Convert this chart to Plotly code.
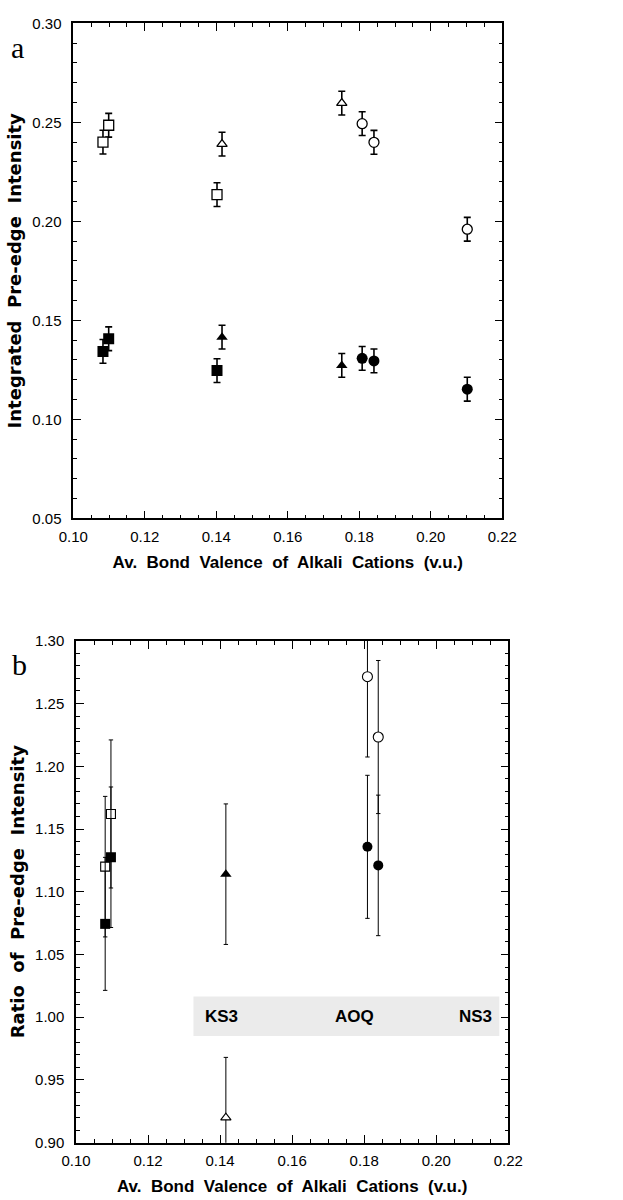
import plotly.graph_objects as go

# ---------------- Panel a data ----------------
a_sq_x = [0.1083, 0.1099, 0.1402]
a_sq_open_y = [0.2400, 0.2485, 0.2135]
a_sq_fill_y = [0.1343, 0.1407, 0.1246]
a_sq_err = [0.006, 0.006, 0.006]

a_tri_x = [0.1416, 0.1751]
a_tri_open_y = [0.2390, 0.2597]
a_tri_fill_y = [0.1415, 0.1272]
a_tri_err = [0.006, 0.006]

a_circ_x = [0.1808, 0.1841, 0.2102]
a_circ_open_y = [0.2493, 0.2399, 0.1960]
a_circ_fill_y = [0.1308, 0.1295, 0.1152]
a_circ_err = [0.006, 0.006, 0.006]

# ---------------- Panel b data ----------------
b_sq_x = [0.1081, 0.1097]
b_sq_open_y = [1.120, 1.162]
b_sq_open_err = [0.056, 0.059]
b_sq_fill_y = [1.0744, 1.1275]
b_sq_fill_err = [0.053, 0.056]

b_tri_x = [0.1416]
b_tri_open_y = [0.920]
b_tri_open_err = [0.048]
b_tri_fill_y = [1.114]
b_tri_fill_err = [0.056]

b_circ_x = [0.1809, 0.1839]
b_circ_open_y = [1.2714, 1.2233]
b_circ_open_err = [0.064, 0.061]
b_circ_fill_y = [1.1358, 1.1210]
b_circ_fill_err = [0.057, 0.056]

band_labels = ["KS3", "AOQ", "NS3"]
band_label_x = [0.1405, 0.1772, 0.2110]

FONT = "Liberation Sans, Arial, Helvetica, sans-serif"
YFONT = "DejaVu Sans, Verdana, sans-serif"
SERIF = "Liberation Serif, Times New Roman, serif"

fig = go.Figure()


def add(x, y, err, symbol, size, filled, xa, ya, thick, capw, lw):
    fig.add_trace(go.Scatter(
        x=x, y=y, mode="markers", xaxis=xa, yaxis=ya, showlegend=False,
        marker=dict(symbol=symbol, size=size,
                    color="black" if filled else "white",
                    line=dict(color="black", width=lw)),
        error_y=dict(type="data", array=err, visible=True, color="black",
                     thickness=thick, width=capw),
    ))


# panel a
add(a_sq_x, a_sq_fill_y, a_sq_err, "square", 11, True, "x", "y", 1.6, 3.5, 0)
add(a_tri_x, a_tri_fill_y, a_tri_err, "triangle-up", 10, True, "x", "y", 1.6, 3.5, 0)
add(a_circ_x, a_circ_fill_y, a_circ_err, "circle", 11, True, "x", "y", 1.6, 3.5, 0)
add(a_sq_x, a_sq_open_y, a_sq_err, "square", 10, False, "x", "y", 1.6, 3.5, 1.3)
add(a_tri_x, a_tri_open_y, a_tri_err, "triangle-up", 9, False, "x", "y", 1.6, 3.5, 1.3)
add(a_circ_x, a_circ_open_y, a_circ_err, "circle", 10, False, "x", "y", 1.6, 3.5, 1.3)

# panel b
add(b_sq_x, b_sq_open_y, b_sq_open_err, "square", 9, False, "x2", "y2", 1.0, 2.2, 1.1)
add(b_tri_x, b_tri_open_y, b_tri_open_err, "triangle-up", 9, False, "x2", "y2", 1.0, 2.2, 1.1)
add(b_circ_x, b_circ_open_y, b_circ_open_err, "circle", 10, False, "x2", "y2", 1.0, 2.2, 1.1)
add(b_sq_x, b_sq_fill_y, b_sq_fill_err, "square", 10, True, "x2", "y2", 1.0, 2.2, 0)
add(b_tri_x, b_tri_fill_y, b_tri_fill_err, "triangle-up", 10, True, "x2", "y2", 1.0, 2.2, 0)
add(b_circ_x, b_circ_fill_y, b_circ_fill_err, "circle", 10, True, "x2", "y2", 1.0, 2.2, 0)

W, H = 623, 1200

axis_common = dict(
    showline=True, linecolor="black", linewidth=1.5, mirror="allticks",
    ticks="inside", ticklen=8, tickwidth=1.2, tickcolor="black",
    showgrid=False, zeroline=False, tickformat=".2f", automargin=False,
    tickfont=dict(family=FONT, size=15, color="black"),
)

xminor = dict(ticks="inside", ticklen=4, dtick=0.005, tickcolor="black", tickwidth=1.1)
yminor = dict(ticks="inside", ticklen=4, dtick=0.01, tickcolor="black", tickwidth=1.1)

xtitle = "Av.  Bond  Valence  of  Alkali  Cations  (v.u.)"
xtfont = dict(family=FONT, size=17, weight="bold", color="black")
ytfont = dict(family=YFONT, size=18, weight="bold", color="black")

fig.update_layout(
    width=W, height=H, autosize=False,
    margin=dict(l=0, r=0, t=0, b=0),
    paper_bgcolor="white", plot_bgcolor="white",
    font=dict(family=FONT, color="black"),
    xaxis=dict(axis_common, domain=[73.3 / W, 502.3 / W], range=[0.10, 0.22],
               dtick=0.02, anchor="y", minor=xminor, ticklabelstandoff=4,
               title=dict(text=xtitle, standoff=12, font=xtfont)),
    yaxis=dict(axis_common, domain=[1 - 518.3 / H, 1 - 23.3 / H], range=[0.05, 0.30],
               dtick=0.05, anchor="x", minor=yminor, ticklabelstandoff=7,
               title=dict(text="Integrated  Pre-edge  Intensity", standoff=6, font=ytfont)),
    xaxis2=dict(axis_common, domain=[76 / W, 508.3 / W], range=[0.10, 0.22],
                dtick=0.02, anchor="y2", minor=xminor, ticklabelstandoff=4,
                title=dict(text=xtitle, standoff=12, font=xtfont)),
    yaxis2=dict(axis_common, domain=[1 - 1142.7 / H, 1 - 640.8 / H], range=[0.90, 1.30],
                dtick=0.05, anchor="x2", minor=yminor, ticklabelstandoff=7,
                title=dict(text="Ratio  of  Pre-edge  Intensity", standoff=6, font=ytfont)),
)

# grey band in panel b
fig.add_shape(type="rect", xref="x2", yref="y2", x0=0.1326, x1=0.2175, y0=0.985, y1=1.0165,
              fillcolor="#ebebeb", line=dict(width=0), layer="below")

for lab, lx in zip(band_labels, band_label_x):
    fig.add_annotation(x=lx, y=1.0005, xref="x2", yref="y2", text=f"<b>{lab}</b>",
                       showarrow=False, font=dict(family=FONT, size=17, color="black"))

# panel letters
fig.add_annotation(x=17 / W, y=1 - 47 / H, xref="paper", yref="paper", text="a",
                   xanchor="center", yanchor="middle",
                   showarrow=False, font=dict(family=SERIF, size=30, color="black"))
fig.add_annotation(x=19 / W, y=1 - 664 / H, xref="paper", yref="paper", text="b",
                   xanchor="center", yanchor="middle",
                   showarrow=False, font=dict(family=SERIF, size=30, color="black"))

fig.write_html("out.html")
